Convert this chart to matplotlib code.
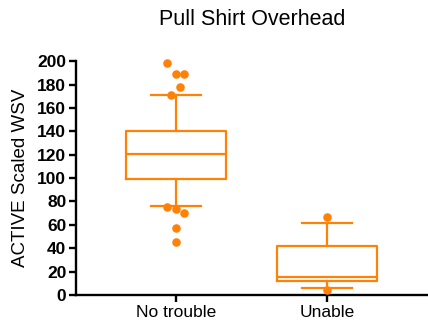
import matplotlib
matplotlib.use("Agg")
import matplotlib.pyplot as plt

plt.rcParams['font.family'] = ['Liberation Sans', 'DejaVu Sans']

ORANGE = "#FF8207"

groups = ["No trouble", "Unable"]
# box stats: whisker low, q1, median, q3, whisker high
whislo = [76, 5.7]
q1 = [99.5, 12.2]
med = [120.6, 15.6]
q3 = [140, 42]
whishi = [171, 62]

# individual points outside / at the whiskers
pts_no_trouble = [198.3, 189.2, 189.2, 177.8, 171.3, 75.4, 73.4, 70.3, 56.9, 45.2]
jit_no_trouble = [-0.062, 0.0, 0.055, 0.027, -0.035, -0.062, 0.0, 0.055, 0.0, 0.0]
pts_unable = [66.3, 4.3]
jit_unable = [0.0, 0.0]

fig = plt.figure(figsize=(4.28, 3.2), dpi=100)
ax = fig.add_axes([0.1776, 0.078, 0.8224, 0.731])

stats = []
for i, g in enumerate(groups):
    stats.append(dict(label=g, whislo=whislo[i], q1=q1[i], med=med[i],
                      q3=q3[i], whishi=whishi[i], fliers=[]))

lw = 1.6
ax.bxp(stats, positions=[1, 2], widths=0.66, showfliers=False,
       boxprops=dict(color=ORANGE, linewidth=lw),
       medianprops=dict(color=ORANGE, linewidth=lw),
       whiskerprops=dict(color=ORANGE, linewidth=lw),
       capprops=dict(color=ORANGE, linewidth=lw),
       capwidths=0.33)

ax.scatter([1 + j for j in jit_no_trouble], pts_no_trouble, s=38,
           color=ORANGE, zorder=3, clip_on=False, linewidths=0)
ax.scatter([2 + j for j in jit_unable], pts_unable, s=38,
           color=ORANGE, zorder=3, clip_on=False, linewidths=0)

ax.set_xlim(0.338, 2.67)
ax.set_ylim(0, 200)
ax.set_yticks(range(0, 201, 20))
ax.set_xticks([1, 2])
ax.set_xticklabels(groups, fontsize=12.5)
for lab in ax.get_yticklabels():
    lab.set_fontweight('bold')
    lab.set_fontsize(12.5)

ax.spines['top'].set_visible(False)
ax.spines['right'].set_visible(False)
ax.spines['left'].set_linewidth(1.7)
ax.spines['bottom'].set_linewidth(1.7)
ax.tick_params(axis='both', width=1.7, length=5, pad=2)

ax.set_ylabel("ACTIVE Scaled WSV", fontsize=13.5, labelpad=6)
ax.set_title("Pull Shirt Overhead", fontsize=15.5, pad=26)

fig.savefig("out.png", dpi=100)
